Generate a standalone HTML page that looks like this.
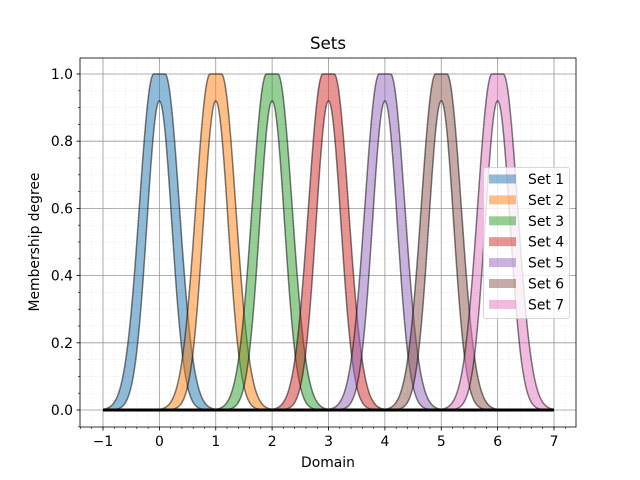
<!DOCTYPE html>
<html><head><meta charset="utf-8"><style>
html,body{margin:0;padding:0;background:#fff;}
svg{display:block;font-family:"DejaVu Sans","Liberation Sans",sans-serif;}
</style></head><body>
<svg id="s" width="640" height="480" xmlns="http://www.w3.org/2000/svg"></svg>
<script>
const L=80,R=576,T=58,B=427;
const X=v=>103+(v+1)*56.375, Y=v=>410-v*336;
const cols=["#1f77b4","#ff7f0e","#2ca02c","#d62728","#9467bd","#8c564b","#e377c2"];
let h='<rect x="0" y="0" width="640" height="480" fill="#fff"/>';
h+='<text x="328" y="49" font-size="16.7" text-anchor="middle">Sets</text>';
for(let v=-1.4;v<=7.41;v+=0.2){let x=X(v);if(x<L||x>R)continue;h+=`<line x1="${x}" y1="${T}" x2="${x}" y2="${B}" stroke="#ddd" stroke-width="0.6" stroke-dasharray="1,2"/>`;}
for(let v=-0.05;v<=1.1;v+=0.05){let y=Y(v);if(y<T||y>B)continue;h+=`<line x1="${L}" y1="${y}" x2="${R}" y2="${y}" stroke="#ddd" stroke-width="0.6" stroke-dasharray="1,2"/>`;}
for(let v=-1;v<=7;v++){let x=X(v);h+=`<line x1="${x}" y1="${T}" x2="${x}" y2="${B}" stroke="#999" stroke-width="0.8"/>`;}
for(let i=0;i<=5;i++){let y=Y(i*0.2);h+=`<line x1="${L}" y1="${y}" x2="${R}" y2="${y}" stroke="#999" stroke-width="0.8"/>`;}
const up=d=>{d=Math.abs(d);return d<0.1?1:Math.exp(-Math.pow(d-0.1,2)/(2*0.255*0.255));};
const lo=d=>{d=Math.abs(d);return d>0.8?0:0.92*Math.exp(-d*d/(2*0.22*0.22));};
for(let k=0;k<7;k++){
 let a=[],b=[];
 for(let x=k-1;x<=k+1.0001;x+=0.01){let d=x-k;a.push(X(x).toFixed(2)+','+Y(up(d)).toFixed(2));b.push(X(x).toFixed(2)+','+Y(lo(d)).toFixed(2));}
 h+=`<polygon points="${a.join(' ')} ${b.slice().reverse().join(' ')}" fill="${cols[k]}" fill-opacity="0.5" stroke="none"/>`;
 h+=`<polyline points="${a.join(' ')}" fill="none" stroke="#000" stroke-opacity="0.5" stroke-width="1.5"/>`;
 h+=`<polyline points="${b.join(' ')}" fill="none" stroke="#000" stroke-opacity="0.5" stroke-width="1.5"/>`;
}
h+=`<line x1="${X(-1)}" y1="${Y(0)}" x2="${X(7)}" y2="${Y(0)}" stroke="#000" stroke-width="3"/>`;
h+=`<rect x="${L}" y="${T}" width="${R-L}" height="${B-T}" fill="none" stroke="#000" stroke-width="0.8"/>`;
for(let v=-1.4;v<=7.41;v+=0.2){let x=X(v);if(x<L||x>R)continue;h+=`<line x1="${x}" y1="${B}" x2="${x}" y2="${B+2}" stroke="#000" stroke-width="0.6"/>`;}
for(let v=-1;v<=7;v++){let x=X(v);h+=`<line x1="${x}" y1="${B}" x2="${x}" y2="${B+3.5}" stroke="#000" stroke-width="0.8"/><text x="${x}" y="${B+19}" font-size="13.9" text-anchor="middle">${v<0?'\u2212'+(-v):v}</text>`;}
for(let v=-0.05;v<=1.1;v+=0.05){let y=Y(v);if(y<T||y>B)continue;h+=`<line x1="${L}" y1="${y}" x2="${L-2}" y2="${y}" stroke="#000" stroke-width="0.6"/>`;}
for(let i=0;i<=5;i++){let y=Y(i*0.2);h+=`<line x1="${L}" y1="${y}" x2="${L-3.5}" y2="${y}" stroke="#000" stroke-width="0.8"/><text x="${L-7}" y="${y+5}" font-size="13.9" text-anchor="end">${(i*0.2).toFixed(1)}</text>`;}
h+=`<text x="328" y="467" font-size="13.9" text-anchor="middle">Domain</text>`;
h+=`<text transform="translate(39,242) rotate(-90)" font-size="13.9" text-anchor="middle">Membership degree</text>`;
h+=`<rect x="483.5" y="167.5" width="86" height="151" rx="2" fill="#fff" fill-opacity="0.8" stroke="#ccc" stroke-width="0.8"/>`;
for(let k=0;k<7;k++){let y=179+k*20.9;h+=`<rect x="489" y="${y-4.5}" width="27" height="9" fill="${cols[k]}" fill-opacity="0.5"/><text x="528" y="${y+5}" font-size="13.9">Set ${k+1}</text>`;}
document.getElementById('s').innerHTML=h;
</script>
</body></html>
